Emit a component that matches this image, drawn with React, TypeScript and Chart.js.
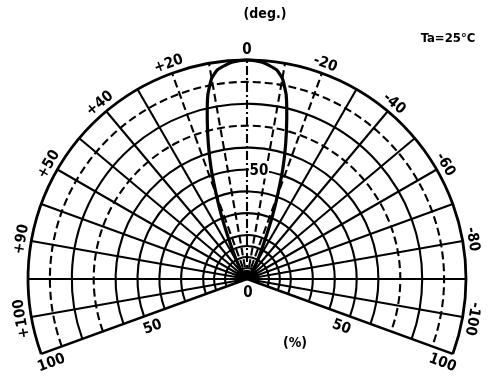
import React, { useEffect, useRef } from "react";
import { Chart, registerables } from "chart.js";

Chart.register(...registerables);

// Radiation pattern: angle (deg, + = left) vs relative intensity (%)
const ANGLES = [90, 60, 50, 40, 35, 30, 28, 26, 24, 22, 20, 18, 16, 14, 12, 10, 8, 6, 4, 2, 0, -2, -4, -6, -8, -10, -12, -14, -16, -18, -20, -22, -24, -26, -28, -30, -35, -40, -50, -60, -90];
const INTENSITY = [0, 0.5, 1, 3, 5, 9, 12, 16, 22, 31, 41, 53, 64, 75, 86, 93, 96.5, 98, 99.2, 99.8, 100, 99.8, 99.2, 98, 96.5, 93, 86, 75, 64, 53, 41, 31, 22, 16, 12, 9, 5, 3, 1, 0.5, 0];

// Grid
const GRID_RADII = [5, 10, 15, 20, 30, 40, 50, 60, 70, 80, 90, 100];
const DASHED_RADII = [70, 90];
const GRID_ANGLES = [110, 100, 90, 80, 70, 60, 50, 40, 30, 20, 10, 0, -10, -20, -30, -40, -50, -60, -70, -80, -90, -100, -110];
const DASHED_ANGLES = [10, 20, -10, -20];
const DASHDOT_ANGLES = [0];
const FAN_LIMIT = 110;

// Tick labels
const DEG_TICKS = [100, 80, 60, 40, 20, 0, -20, -40, -60, -80, -100];
const DEG_LABELS = ["+100", "+90", "+50", "+40", "+20", "0", "-20", "-40", "-60", "-80", "-100"];
const PCT_TICKS = [50, 100];
const PCT_LABELS = ["50", "100"];

const FONT = "'Liberation Sans Narrow', 'DejaVu Sans Condensed', 'Liberation Sans', sans-serif";

const rad = (d: number) => (d * Math.PI) / 180;

export default function App() {
  const ref = useRef<HTMLCanvasElement | null>(null);

  useEffect(() => {
    const canvas = ref.current;
    if (!canvas) return;

    const points = ANGLES.map((a, i) => ({
      x: -INTENSITY[i] * Math.sin(rad(a)),
      y: INTENSITY[i] * Math.cos(rad(a)),
    }));

    const gridPlugin = {
      id: "polarGrid",
      beforeDatasetsDraw(chart: any) {
        const { ctx } = chart;
        const xs = chart.scales.x;
        const ys = chart.scales.y;
        const cx = xs.getPixelForValue(0);
        const cy = ys.getPixelForValue(0);
        const unit = xs.getPixelForValue(1) - cx;
        const startA = rad(180 - (FAN_LIMIT - 90));
        const endA = rad(360 + (FAN_LIMIT - 90));
        ctx.save();
        ctx.strokeStyle = "#000";
        ctx.lineCap = "butt";
        GRID_RADII.forEach((r) => {
          ctx.beginPath();
          ctx.lineWidth = r === 100 ? 2.8 : 2.1;
          ctx.setLineDash(DASHED_RADII.includes(r) ? [8, 4] : []);
          ctx.arc(cx, cy, r * unit, startA, endA, false);
          ctx.stroke();
        });
        GRID_ANGLES.forEach((a) => {
          const ex = xs.getPixelForValue(-100 * Math.sin(rad(a)));
          const ey = ys.getPixelForValue(100 * Math.cos(rad(a)));
          ctx.beginPath();
          ctx.lineWidth = Math.abs(a) === FAN_LIMIT ? 2.6 : 2.1;
          if (DASHDOT_ANGLES.includes(a)) ctx.setLineDash([9, 3, 2, 3]);
          else if (DASHED_ANGLES.includes(a)) ctx.setLineDash([8, 4]);
          else ctx.setLineDash([]);
          ctx.moveTo(cx, cy);
          ctx.lineTo(ex, ey);
          ctx.stroke();
        });
        ctx.setLineDash([]);
        // centre blob
        ctx.fillStyle = "#000";
        ctx.beginPath();
        ctx.moveTo(cx, cy);
        ctx.arc(cx, cy, 4.2 * unit, startA, endA, false);
        ctx.closePath();
        ctx.fill();
        ctx.restore();
      },
      afterDatasetsDraw(chart: any) {
        const { ctx } = chart;
        const xs = chart.scales.x;
        const ys = chart.scales.y;
        const cx = xs.getPixelForValue(0);
        const cy = ys.getPixelForValue(0);
        ctx.save();
        ctx.fillStyle = "#000";
        ctx.textAlign = "center";
        ctx.textBaseline = "middle";
        ctx.font = `bold 15px ${FONT}`;
        // degree labels
        DEG_TICKS.forEach((a, i) => {
          const r = 104.5;
          const px = xs.getPixelForValue(-r * Math.sin(rad(a)));
          const py = ys.getPixelForValue(r * Math.cos(rad(a)));
          ctx.save();
          ctx.translate(px, py);
          ctx.rotate(rad(-a));
          ctx.fillText(DEG_LABELS[i], 0, 0);
          ctx.restore();
        });
        // percentage labels along both edges
        [FAN_LIMIT, -FAN_LIMIT].forEach((a) => {
          const side = a > 0 ? -1 : 1;
          PCT_TICKS.forEach((p, i) => {
            const r = p === 100 ? 97 : 48;
            const px = xs.getPixelForValue(-r * Math.sin(rad(a)));
            const py = ys.getPixelForValue(r * Math.cos(rad(a)));
            const off = p === 100 ? 12 : 13;
            const nx = side > 0 ? -0.342 : 0.342;
            const ny = 0.94;
            ctx.save();
            ctx.translate(px + nx * off, py + ny * off);
            ctx.rotate(rad(side * (FAN_LIMIT - 90)));
            ctx.fillText(PCT_LABELS[i], 0, 0);
            ctx.restore();
          });
        });
        // radial 50 label on the 0 deg line
        const lx = cx + 12;
        const ly = ys.getPixelForValue(50) + 2;
        ctx.fillStyle = "#fff";
        ctx.fillRect(lx - 10, ly - 8, 20, 15);
        ctx.fillStyle = "#000";
        ctx.fillText("50", lx, ly);
        // centre 0
        ctx.fillText("0", cx + 1, cy + 14);
        // units & condition
        ctx.font = `bold 14px ${FONT}`;
        ctx.fillText("(deg.)", cx + 18, 14);
        ctx.fillText("(%)", cx + 48, cy + 64);
        ctx.font = `bold 13px ${FONT}`;
        ctx.fillText("Ta=25°C", 448, 39);
        ctx.restore();
      },
    };

    const W = 496;
    const H = 380;
    const CX = 247;
    const CY = 279;
    const PPU = 2.19;

    const chart = new Chart(canvas, {
      type: "scatter",
      data: {
        datasets: [
          {
            data: points,
            showLine: true,
            borderColor: "#000",
            borderWidth: 3.2,
            pointRadius: 0,
            tension: 0.15,
            fill: false,
          },
        ],
      },
      options: {
        animation: false,
        responsive: false,
        devicePixelRatio: 1,
        layout: { padding: 0 },
        plugins: { legend: { display: false }, tooltip: { enabled: false }, title: { display: false } },
        scales: {
          x: { type: "linear", display: false, min: -CX / PPU, max: (W - CX) / PPU },
          y: { type: "linear", display: false, min: -(H - CY) / PPU, max: CY / PPU },
        },
      },
      plugins: [gridPlugin],
    });

    return () => chart.destroy();
  }, []);

  return (
    <div style={{ position: "fixed", left: 0, top: 0, width: 496, height: 380, background: "#fff" }}>
      <canvas ref={ref} width={496} height={380} style={{ display: "block", width: 496, height: 380 }} />
    </div>
  );
}
